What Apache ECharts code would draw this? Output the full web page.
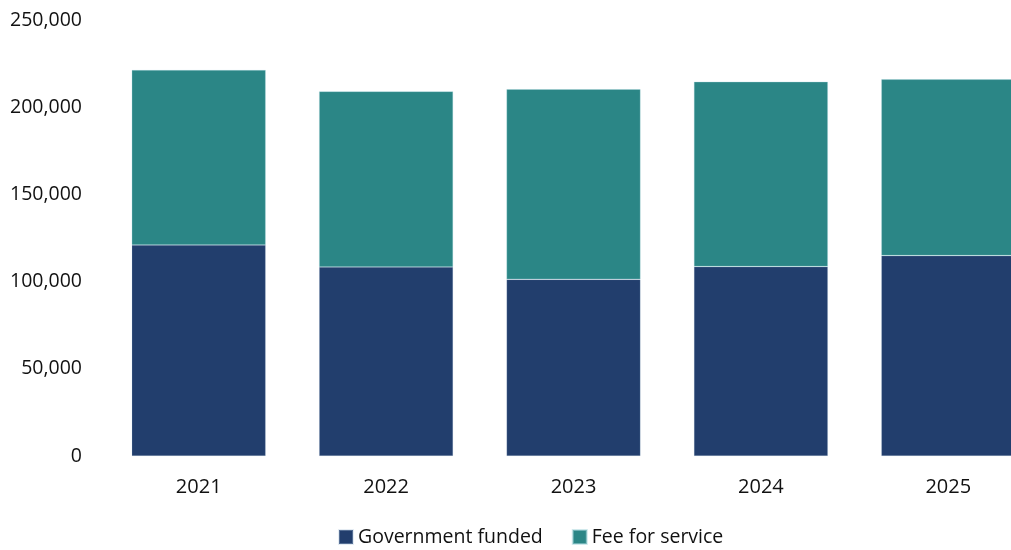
<!DOCTYPE html>
<html>
<head>
<meta charset="utf-8">
<script src="https://cdn.jsdelivr.net/npm/echarts@6/dist/echarts.min.js"></script>
<style>
  html, body { margin: 0; padding: 0; background: #ffffff; overflow: hidden; }
  /* the drawing is wider than the page, so the last bar runs off the right edge */
  #chart { width: 1042px; height: 550px; }
</style>
</head>
<body>
<div id="chart"></div>
<script>
// Years shown on the category axis
const years = ['2021', '2022', '2023', '2024', '2025'];
// Stacked components of each year's total
const governmentFunded = [121000, 108400, 101300, 108600, 114900];
const feeForService = [100300, 100700, 109000, 106000, 101100];
// Value axis range and step
const yMin = 0;
const yMax = 250000;
const yStep = 50000;

const fontFamily = '"Open Sans", "Noto Sans", sans-serif';
const chart = echarts.init(document.getElementById('chart'), null, { renderer: 'canvas' });

chart.setOption({
  animation: false,
  backgroundColor: '#ffffff',
  textStyle: { fontFamily: fontFamily },
  grid: { left: 105, right: 0, top: 20, height: 436, containLabel: false },
  legend: {
    bottom: -2,
    left: 333,
    itemWidth: 14,
    itemHeight: 14,
    itemGap: 29,
    icon: 'rect',
    textStyle: { fontSize: 19.5, color: '#111111', fontFamily: fontFamily },
    data: ['Government funded', 'Fee for service']
  },
  xAxis: {
    type: 'category',
    data: years,
    axisLine: { show: false },
    axisTick: { show: false },
    axisLabel: { fontSize: 20, color: '#111111', margin: 21, fontFamily: fontFamily }
  },
  yAxis: {
    type: 'value',
    min: yMin,
    max: yMax,
    interval: yStep,
    axisLine: { show: false },
    axisTick: { show: false },
    splitLine: { show: false },
    axisLabel: {
      fontSize: 19.5,
      color: '#111111',
      margin: 23,
      fontFamily: fontFamily,
      formatter: v => v.toLocaleString('en-US')
    }
  },
  series: [
    {
      name: 'Government funded',
      type: 'bar',
      stack: 'total',
      data: governmentFunded,
      barCategoryGap: '28.5%',
      itemStyle: { color: '#223e6d', borderColor: 'rgba(180,200,220,0.35)', borderWidth: 0.6 }
    },
    {
      name: 'Fee for service',
      type: 'bar',
      stack: 'total',
      data: feeForService,
      barCategoryGap: '28.5%',
      itemStyle: { color: '#2b8686', borderColor: 'rgba(170,215,220,0.55)', borderWidth: 0.6 }
    }
  ]
});
</script>
</body>
</html>
